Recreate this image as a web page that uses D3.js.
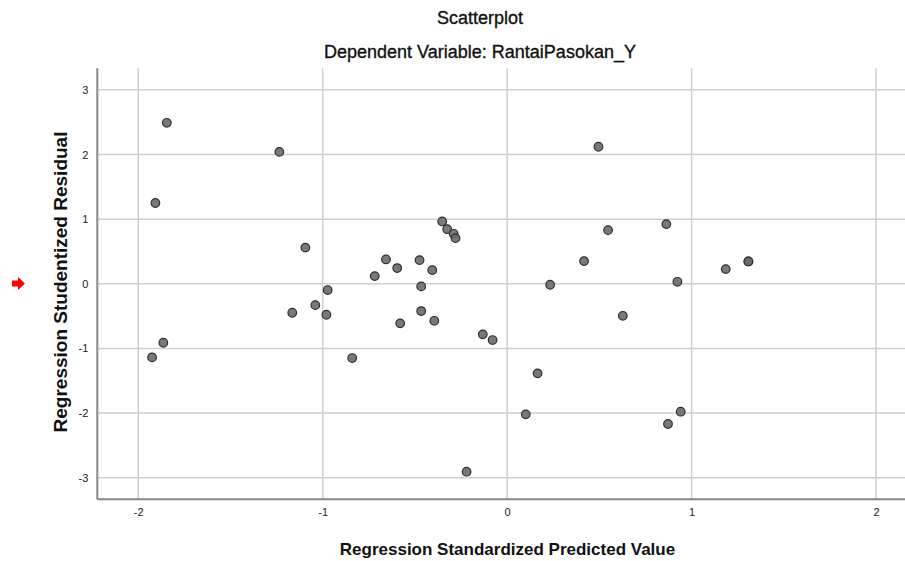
<!DOCTYPE html>
<html><head><meta charset="utf-8">
<script src="https://cdn.jsdelivr.net/npm/d3@7/dist/d3.min.js"></script>
<style>body{margin:0;background:#fff;} svg{display:block;}</style>
</head><body>
<script>
const predicted = [-1.845,-1.235,-1.907,-1.094,-0.657,-0.718,-0.973,-1.04,
  0.495,-0.352,-0.325,-0.29,-0.28,0.547,0.863,0.417,0.923,0.233,-0.475,-0.596,-0.406,-0.466,
  1.185,1.308,1.308,
  -1.925,-1.864,-1.165,-0.98,-0.84,
  -0.58,-0.466,-0.395,-0.132,-0.079,0.627,0.165,0.101,0.941,0.872,-0.22];
const residual = [2.49,2.04,1.25,0.56,0.377,0.119,-0.097,-0.33,
  2.12,0.964,0.845,0.773,0.706,0.83,0.923,0.351,0.031,-0.015,0.366,0.243,0.212,-0.04,
  0.227,0.346,0.346,
  -1.138,-0.912,-0.448,-0.479,-1.148,
  -0.612,-0.422,-0.572,-0.782,-0.87,-0.495,-1.385,-2.019,-1.978,-2.168,-2.906];
const xTicks = [-2,-1,0,1,2];
const yTicks = [-3,-2,-1,0,1,2,3];
const title = "Scatterplot";
const subtitle = "Dependent Variable: RantaiPasokan_Y";
const xTitle = "Regression Standardized Predicted Value";
const yTitle = "Regression Studentized Residual";

const W = 905, H = 561;
const svg = d3.select("body").append("svg").attr("width", W).attr("height", H)
  .style("font-family", "'Liberation Sans', Arial, sans-serif");

const pL = 97.3, pR = 917, pT = 68.3, pB = 499.3;
const x = d3.scaleLinear().domain([-2.222, 2.222]).range([pL, pR]);
const y = d3.scaleLinear().domain([-3.333, 3.333]).range([pB, pT]);

// grid
svg.append("g").selectAll("line").data(yTicks).join("line")
  .attr("x1", pL).attr("x2", W).attr("y1", d => y(d)).attr("y2", d => y(d))
  .attr("stroke", "#cfcfcf").attr("stroke-width", 1.5);
svg.append("g").selectAll("line").data(xTicks).join("line")
  .attr("x1", d => x(d)).attr("x2", d => x(d)).attr("y1", pT).attr("y2", pB)
  .attr("stroke", "#cfcfcf").attr("stroke-width", 1.5);

// axes
const fmt = d => String(d);
const xAxis = svg.append("g").attr("transform", `translate(0,${pB})`)
  .call(d3.axisBottom(x).tickValues(xTicks).tickSize(0).tickPadding(9).tickFormat(fmt));
const yAxis = svg.append("g").attr("transform", `translate(${pL},0)`)
  .call(d3.axisLeft(y).tickValues(yTicks).tickSize(0).tickPadding(9).tickFormat(fmt));
[xAxis, yAxis].forEach(a => {
  a.select(".domain").remove();
  a.selectAll("text").attr("font-size", 11).attr("fill", "#222")
   .style("font-family", "'Liberation Sans', Arial, sans-serif");
});
svg.append("line").attr("x1", pL).attr("x2", W).attr("y1", pB).attr("y2", pB)
  .attr("stroke", "#888").attr("stroke-width", 2);
svg.append("line").attr("x1", pL).attr("x2", pL).attr("y1", pT).attr("y2", pB)
  .attr("stroke", "#888").attr("stroke-width", 2);

// points
const pts = predicted.map((p, i) => ({p, r: residual[i]}));
svg.append("g").selectAll("circle").data(pts).join("circle")
  .attr("cx", d => x(d.p)).attr("cy", d => y(d.r)).attr("r", 4.3)
  .attr("fill", "#6a6a6a").attr("fill-opacity", 0.9).attr("stroke", "#2e2e2e").attr("stroke-width", 1.2);

// titles
svg.append("text").attr("x", 480).attr("y", 24).attr("text-anchor", "middle")
  .attr("font-size", 18).attr("fill", "#111").attr("stroke", "#111").attr("stroke-width", 0.35).text(title);
svg.append("text").attr("x", 480).attr("y", 58).attr("text-anchor", "middle")
  .attr("font-size", 18).attr("fill", "#111").attr("stroke", "#111").attr("stroke-width", 0.35).text(subtitle);
svg.append("text").attr("x", 507.5).attr("y", 555).attr("text-anchor", "middle")
  .attr("font-size", 17).attr("font-weight", "bold").attr("fill", "#111").text(xTitle);
svg.append("text").attr("transform", `translate(67,282) rotate(-90)`).attr("text-anchor", "middle")
  .attr("font-size", 19).attr("font-weight", "bold").attr("fill", "#111").text(yTitle);

// red marker arrow
svg.append("path").attr("d", "M12,280.5 L18,280.5 L18,277 L25,283.5 L18,290 L18,286.5 L12,286.5 Z")
  .attr("fill", "#ff0000");
</script>
</body></html>
